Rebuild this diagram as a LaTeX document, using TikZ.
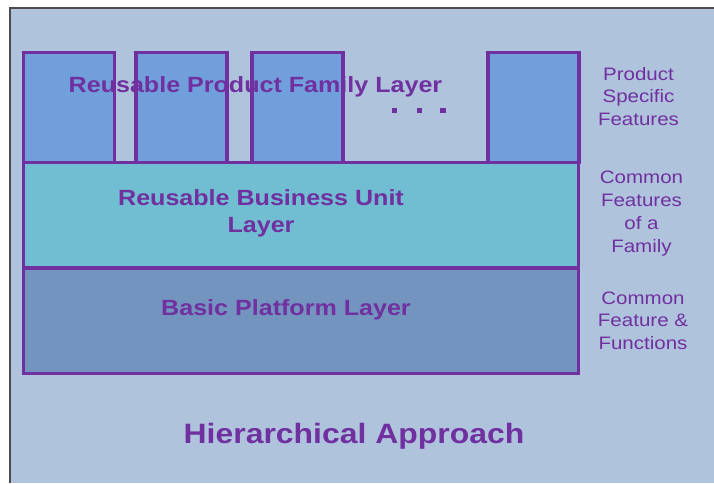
\documentclass[tikz,border=0pt]{standalone}
\usepackage{fontspec}
\setmainfont[FakeStretch=1.14]{Liberation Sans}
\usepackage{tikz}
\usetikzlibrary{positioning}
\definecolor{vio}{HTML}{7030A0}
\definecolor{bgblue}{HTML}{B0C3DC}
\definecolor{prodblue}{HTML}{709FDB}
\definecolor{unitcyan}{HTML}{71BDD2}
\definecolor{baseblue}{HTML}{7394BF}

\begin{document}
\begin{tikzpicture}[x=1pt, y=-1pt, every node/.style={text=vio, inner sep=0pt, outer sep=0pt},
  prod/.style={draw=vio, line width=3.1pt, fill=prodblue, anchor=north west, minimum width=91pt, minimum height=110pt},
  layer/.style={draw=vio, line width=3.1pt, anchor=north west, minimum width=555pt, minimum height=105.5pt},
  big/.style={font=\bfseries\fontsize{22}{27}\selectfont, align=center, anchor=base},
  side/.style={font=\fontsize{18}{22.7}\selectfont, align=center, anchor=base},
  dot/.style={fill=vio, minimum size=5.5pt}]
\useasboundingbox (0,0) rectangle (714,483);
\fill[bgblue] (10,8) rectangle (714,483);
\draw[black!70, line width=1.2pt] (10,483) |- (714,8);
% layers
\node[layer, fill=unitcyan] (unit) at (23.5,162.5) {};
\node[layer, fill=baseblue] (base) at (23.5,268) {};
\foreach \n/\x in {p1/23.5,p2/136,p3/252,p4/488} \node[prod] (\n) at (\x,52.5) {};
\foreach \n/\x in {d1/394.5,d2/419.5,d3/443} \node[dot] (\n) at (\x,110.5) {};
% labels (base = last line)
\node[big] (famlbl) at (255.5,92) {Reusable Product Family Layer};
\node[big] (unitlbl) at (261,232) {Reusable Business Unit\\Layer};
\node[big] (baselbl) at (286,315) {Basic Platform Layer};
\node[big, font=\bfseries\fontsize{28}{32}\selectfont] (title) at (354,443) {Hierarchical Approach};
\node[side] (s1) at (638.5,125.5) {Product\\Specific\\Features};
\node[side] (s2) at (641.5,252) {Common\\Features\\of a\\Family};
\node[side] (s3) at (643,349.5) {Common\\Feature \&\\Functions};
\end{tikzpicture}
\end{document}
